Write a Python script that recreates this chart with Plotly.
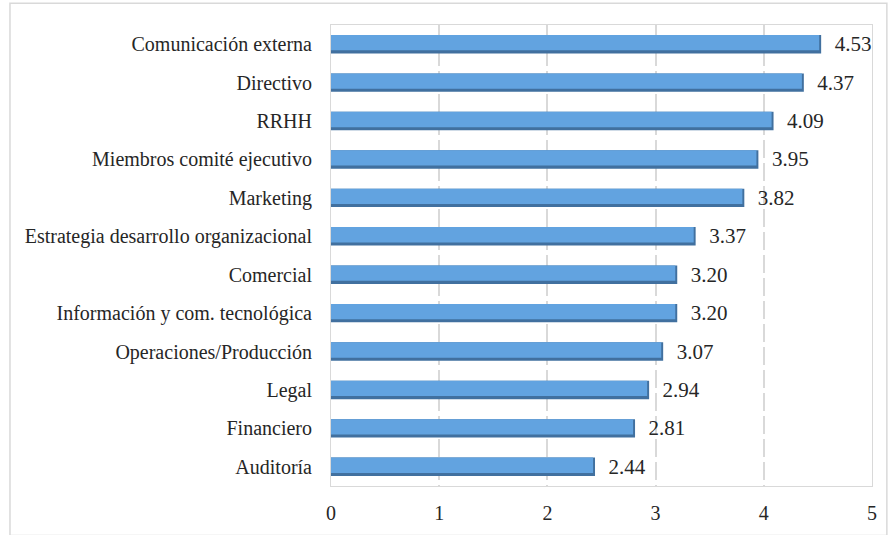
import plotly.graph_objects as go

# Puntuación media por área funcional
areas = [
    "Comunicación externa",
    "Directivo",
    "RRHH",
    "Miembros comité ejecutivo",
    "Marketing",
    "Estrategia desarrollo organizacional",
    "Comercial",
    "Información y com. tecnológica",
    "Operaciones/Producción",
    "Legal",
    "Financiero",
    "Auditoría",
]
scores = [4.53, 4.37, 4.09, 3.95, 3.82, 3.37, 3.20, 3.20, 3.07, 2.94, 2.81, 2.44]
x_ticks = [0, 1, 2, 3, 4, 5]

FONT = "'Liberation Serif', 'Times New Roman', serif"
TEXT = "#262626"
SIZE = 20

BAR_W = 0.48          # bar thickness in category units
EDGE_X = 0.018        # width of the darker right edge (x units)
FACE_W = 0.40         # thickness of the lighter face, leaving a dark lower rim

fig = go.Figure()

# Darker base bar: forms the shaded bottom and right rims, carries the labels
fig.add_trace(go.Bar(
    x=scores,
    y=areas,
    orientation="h",
    width=BAR_W,
    offset=-BAR_W / 2,
    marker=dict(color="#41709F", line=dict(width=0)),
    text=[f"{v:.2f}" for v in scores],
    texttemplate="  %{text}",
    textposition="outside",
    constraintext="none",
    textfont=dict(family=FONT, size=21, color=TEXT),
    cliponaxis=False,
    hoverinfo="skip",
))

# Lighter face of each bar
fig.add_trace(go.Bar(
    x=[v - EDGE_X for v in scores],
    y=areas,
    orientation="h",
    width=FACE_W,
    offset=-BAR_W / 2,
    marker=dict(color="#62A3E0", line=dict(width=0)),
    hoverinfo="skip",
))

# Outer frame around the whole chart
fig.add_shape(
    type="rect", xref="paper", yref="paper",
    x0=(7 - 331) / 546, x1=(892 - 331) / 546,
    y0=-(540 - 490) / 465, y1=1 + (25 - 3) / 465,
    line=dict(color="#D9D9D9", width=1.5), fillcolor="rgba(0,0,0,0)",
    layer="below",
)

fig.update_layout(
    width=888, height=535,
    margin=dict(l=331, r=11, t=25, b=45),
    paper_bgcolor="white", plot_bgcolor="white",
    showlegend=False,
    barmode="overlay",
    font=dict(family=FONT, size=SIZE, color=TEXT),
    xaxis=dict(
        range=[0, 5], tickvals=x_ticks, ticktext=[str(t) for t in x_ticks],
        showgrid=True, gridcolor="#D9D9D9", gridwidth=1.5, griddash="18px,5px",
        zeroline=False, showline=True, linecolor="#D9D9D9", linewidth=1, mirror=True,
        ticks="", ticklabelstandoff=9,
        tickfont=dict(family=FONT, size=SIZE, color=TEXT),
    ),
    yaxis=dict(
        autorange="reversed", showgrid=False, zeroline=False,
        showline=True, linecolor="#D9D9D9", linewidth=1, mirror=True,
        ticks="", ticklabelstandoff=14,
        tickfont=dict(family=FONT, size=SIZE, color=TEXT),
    ),
)

fig.write_html("out.html")
